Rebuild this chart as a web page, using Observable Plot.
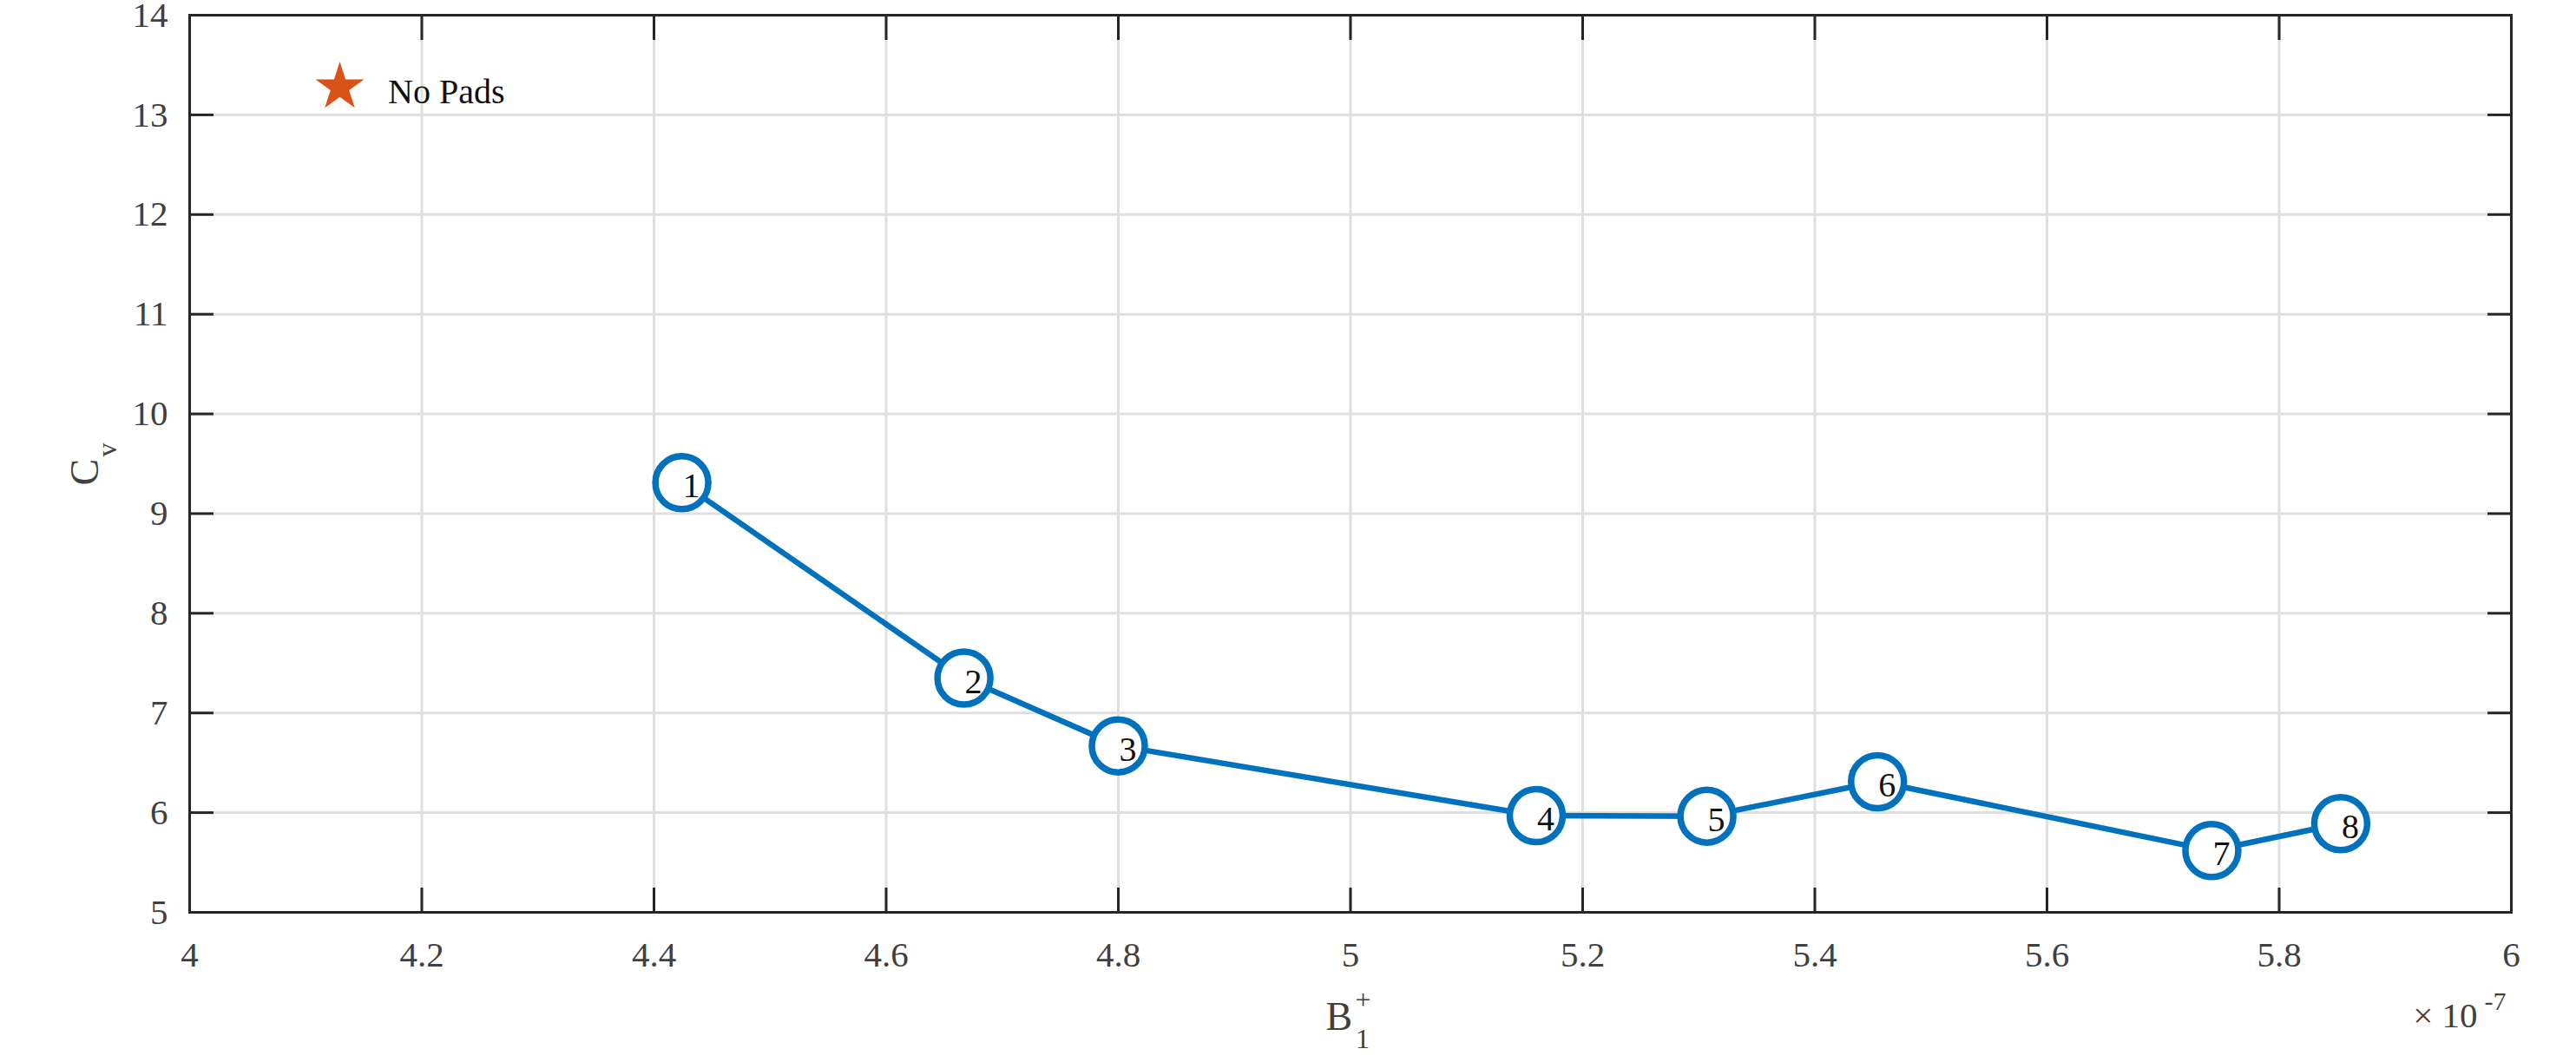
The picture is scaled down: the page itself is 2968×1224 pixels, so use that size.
<!DOCTYPE html>
<html>
<head>
<meta charset="utf-8">
<script src="https://cdn.jsdelivr.net/npm/d3@7"></script>
<script src="https://cdn.jsdelivr.net/npm/@observablehq/plot@0.6"></script>
<style>
  html, body { margin: 0; padding: 0; background: #fff; }
  svg { display: block; }
</style>
</head>
<body>
<div id="chart"></div>
<script>
// ---- data ----
const pointIds = [1, 2, 3, 4, 5, 6, 7, 8];
const b1Values = [4.424, 4.667, 4.800, 5.160, 5.307, 5.454, 5.742, 5.853]; // B1+ in units of 10^-7
const cvValues = [9.31, 7.35, 6.67, 5.97, 5.965, 6.31, 5.62, 5.89];

const xTickValues = [4, 4.2, 4.4, 4.6, 4.8, 5, 5.2, 5.4, 5.6, 5.8, 6];
const yTickValues = [5, 6, 7, 8, 9, 10, 11, 12, 13, 14];
const xDomain = [4, 6];
const yDomain = [5, 14];

const legendLabels = ["No Pads"];
const yLabelParts = ["C", "v"];
const xLabelParts = ["B", "1", "+"];
const exponentParts = ["\u00d7 10", "-7"];

// ---- styles ----
const serif = "'Liberation Serif', 'Times New Roman', serif";
const lineBlue = "#0072BD";
const starOrange = "#D95319";
const axisColor = "#262626";
const tickTextColor = "#404040";
const gridColor = "#dfdfdf";

const points = pointIds.map((id, i) => ({id: String(id), b1: b1Values[i], cv: cvValues[i]}));

const chart = Plot.plot({
  width: 2968,
  height: 1224,
  marginLeft: 218,
  marginRight: 75,
  marginTop: 17,
  marginBottom: 173,
  style: {background: "#fff", fontFamily: serif, fontSize: "41px", overflow: "visible"},
  x: {domain: xDomain},
  y: {domain: yDomain},
  marks: [
    Plot.gridX(xTickValues, {stroke: gridColor, strokeOpacity: 1, strokeWidth: 3}),
    Plot.gridY(yTickValues, {stroke: gridColor, strokeOpacity: 1, strokeWidth: 3}),

    Plot.line(points, {x: "b1", y: "cv", stroke: lineBlue, strokeWidth: 6.5, strokeLinejoin: "round"}),
    Plot.dot(points, {x: "b1", y: "cv", r: 30.5, fill: "#fff", stroke: lineBlue, strokeWidth: 7.5}),
    Plot.text(points, {x: "b1", y: "cv", text: "id", textAnchor: "start", lineAnchor: "bottom",
      dx: 1, dy: 17, fontSize: 40, fill: "#111", fontFamily: serif}),

    // legend (no box)
    Plot.dot(legendLabels, {frameAnchor: "top-left", symbol: "star", r: 17.6, fill: starOrange, stroke: "none", dx: 173, dy: 83}),
    Plot.text(legendLabels, {frameAnchor: "top-left", text: d => d, textAnchor: "start", lineAnchor: "bottom",
      dx: 228.5, dy: 101, fontSize: 40, fill: "#111", fontFamily: serif}),

    // axes: inward ticks on all four sides
    Plot.axisX(xTickValues, {anchor: "bottom", tickSize: 28, dy: -28, tickPadding: 33, stroke: axisColor, strokeWidth: 3,
      fill: tickTextColor, fontSize: 41, label: null, tickFormat: d => `${d}`}),
    Plot.axisX(xTickValues, {anchor: "top", tickSize: 28, dy: 28, stroke: axisColor, strokeWidth: 3, fill: "none", label: null}),
    Plot.axisY(yTickValues, {anchor: "left", tickSize: 28, dx: 28, tickPadding: 25, stroke: axisColor, strokeWidth: 3,
      fill: tickTextColor, fontSize: 41, label: null, tickFormat: d => `${d}`}),
    Plot.axisY(yTickValues, {anchor: "right", tickSize: 28, dx: -28, stroke: axisColor, strokeWidth: 3, fill: "none", label: null}),
    Plot.frame({stroke: axisColor, strokeWidth: 3}),

    // x label B_1^+
    Plot.text([xLabelParts[0]], {frameAnchor: "bottom", text: d => d, textAnchor: "start", lineAnchor: "bottom",
      dx: -28.5, dy: 135, fontSize: 46, fill: tickTextColor, fontFamily: serif}),
    Plot.text([xLabelParts[1]], {frameAnchor: "bottom", text: d => d, textAnchor: "start", lineAnchor: "bottom",
      dx: 6, dy: 156, fontSize: 32, fill: tickTextColor, fontFamily: serif}),
    Plot.text([xLabelParts[2]], {frameAnchor: "bottom", text: d => d, textAnchor: "start", lineAnchor: "bottom",
      dx: 5.5, dy: 111, fontSize: 32, fill: tickTextColor, fontFamily: serif}),

    // exponent × 10^-7
    Plot.text([exponentParts[0]], {frameAnchor: "bottom-right", text: d => d, textAnchor: "end", lineAnchor: "bottom",
      dx: -39, dy: 132, fontSize: 41, fill: tickTextColor, fontFamily: serif}),
    Plot.text([exponentParts[1]], {frameAnchor: "bottom-right", text: d => d, textAnchor: "start", lineAnchor: "bottom",
      dx: -31, dy: 112, fontSize: 30, fill: tickTextColor, fontFamily: serif}),

    // y label C_v (rotated)
    Plot.text([yLabelParts[0]], {frameAnchor: "left", text: d => d, textAnchor: "start", lineAnchor: "bottom", rotate: -90,
      dx: -106, dy: 25, fontSize: 46, fill: tickTextColor, fontFamily: serif}),
    Plot.text([yLabelParts[1]], {frameAnchor: "left", text: d => d, textAnchor: "start", lineAnchor: "bottom", rotate: -90,
      dx: -85, dy: -8, fontSize: 32, fill: tickTextColor, fontFamily: serif})
  ]
});

document.getElementById("chart").appendChild(chart);
</script>
</body>
</html>
